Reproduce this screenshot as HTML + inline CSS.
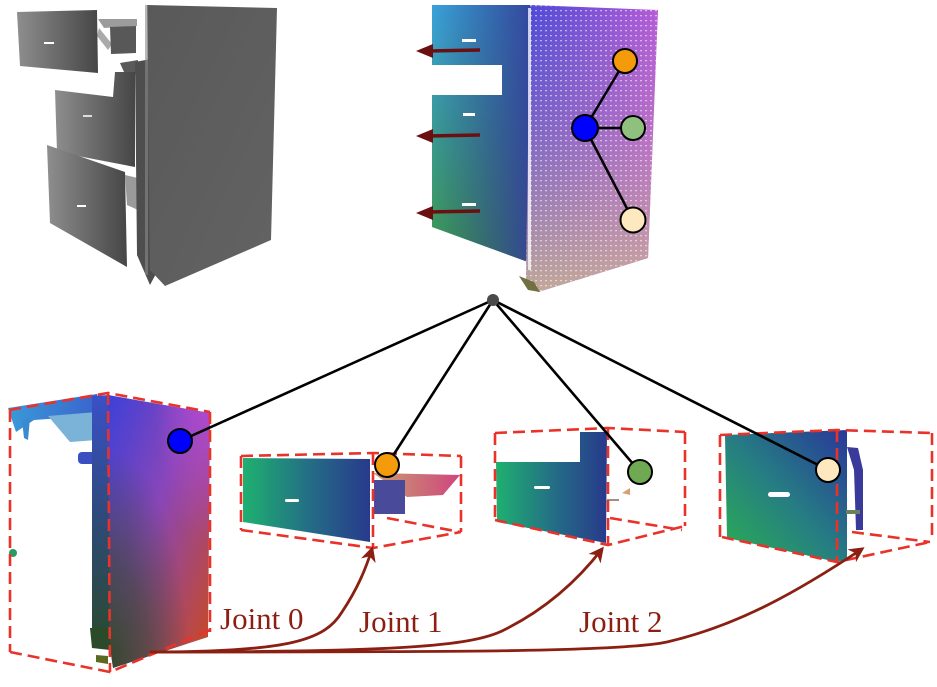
<!DOCTYPE html>
<html><head><meta charset="utf-8">
<style>
html,body{margin:0;padding:0;background:#fff;}
svg{display:block;}
</style></head><body>
<svg width="937" height="687" viewBox="0 0 937 687" xmlns="http://www.w3.org/2000/svg">
<defs>
  <linearGradient id="gDrawer" x1="0" y1="0" x2="1" y2="0">
    <stop offset="0" stop-color="#8e8e8e"/><stop offset="1" stop-color="#464646"/>
  </linearGradient>
  <linearGradient id="gPanel" x1="0" y1="0" x2="1" y2="1">
    <stop offset="0" stop-color="#595959"/><stop offset="1" stop-color="#636363"/>
  </linearGradient>
  <pattern id="dots" width="5" height="5" patternUnits="userSpaceOnUse">
    <rect x="0" y="0" width="2" height="1.3" fill="#fff" opacity="0.55"/>
  </pattern>
  <linearGradient id="gTL" x1="0" y1="0" x2="0" y2="1">
    <stop offset="0" stop-color="#3aa2dc"/><stop offset="0.5" stop-color="#3a9a92"/><stop offset="1" stop-color="#3c9a48"/>
  </linearGradient>
  <linearGradient id="gTLo" x1="0" y1="0" x2="1" y2="0">
    <stop offset="0" stop-color="#2a3a80" stop-opacity="0"/><stop offset="1" stop-color="#34409a" stop-opacity="0.92"/>
  </linearGradient>
  <linearGradient id="gTR" x1="0" y1="0" x2="1" y2="0">
    <stop offset="0" stop-color="#4a48d8"/><stop offset="1" stop-color="#b45ad8"/>
  </linearGradient>
  <linearGradient id="gTRo" x1="0" y1="0" x2="0" y2="1">
    <stop offset="0" stop-color="#c8a898" stop-opacity="0"/><stop offset="0.35" stop-color="#c893a8" stop-opacity="0.3"/><stop offset="1" stop-color="#c8ae96" stop-opacity="0.95"/>
  </linearGradient>
  <linearGradient id="gB1" x1="0" y1="0" x2="1" y2="1">
    <stop offset="0" stop-color="#3c40d8"/><stop offset="0.45" stop-color="#8a46b8"/><stop offset="1" stop-color="#cc4a18"/>
  </linearGradient>
  <radialGradient id="gB1g" cx="0" cy="1" r="0.8">
    <stop offset="0" stop-color="#34482a" stop-opacity="1"/><stop offset="0.5" stop-color="#34482a" stop-opacity="0.6"/><stop offset="1" stop-color="#34482a" stop-opacity="0"/>
  </radialGradient>
  <radialGradient id="gB1p" cx="1" cy="0" r="0.55">
    <stop offset="0" stop-color="#b44ad8" stop-opacity="0.9"/><stop offset="1" stop-color="#b44ad8" stop-opacity="0"/>
  </radialGradient>
  <linearGradient id="gCol" x1="0" y1="0" x2="0" y2="1">
    <stop offset="0" stop-color="#3a50c8"/><stop offset="0.5" stop-color="#2e4a7a"/><stop offset="1" stop-color="#2a4a30"/>
  </linearGradient>
  <linearGradient id="gBar" x1="0" y1="0" x2="1" y2="0">
    <stop offset="0" stop-color="#3a9ad8"/><stop offset="1" stop-color="#3a62cc"/>
  </linearGradient>
  <linearGradient id="gGB" x1="0" y1="0" x2="1" y2="0">
    <stop offset="0" stop-color="#1eb070"/><stop offset="0.55" stop-color="#246a86"/><stop offset="1" stop-color="#283a8c"/>
  </linearGradient>
  <linearGradient id="gGB4" x1="0" y1="1" x2="1" y2="0">
    <stop offset="0" stop-color="#2ab050"/><stop offset="0.5" stop-color="#267c84"/><stop offset="1" stop-color="#28389a"/>
  </linearGradient>
  <linearGradient id="gPink" x1="0" y1="0" x2="1" y2="0">
    <stop offset="0" stop-color="#c8a070"/><stop offset="1" stop-color="#d0447e"/>
  </linearGradient>
  <marker id="ah" viewBox="0 0 10 10" refX="8" refY="5" markerWidth="5.5" markerHeight="5.5" orient="auto" markerUnits="strokeWidth">
    <path d="M0,0 L10,5 L0,10 L3,5 z" fill="#8a1f12"/>
  </marker>
</defs>

<!-- ============ TOP LEFT gray cabinet ============ -->
<g>
  <polygon points="98,19 137,19 137,26 104,28" fill="#9c9c9c"/>
  <polygon points="99,28 112,44 108,50 97,36" fill="#aaaaaa"/>
  <polygon points="110,27 136,26 136,53 111,54" fill="#585858"/>
  <polygon points="120,63 138,60 138,75 124,72" fill="#5a5a5a"/>
  <polygon points="17,12 97,10 98,73 20,66" fill="url(#gDrawer)"/>
  <polygon points="55,90 113,97 115,72 135,72 135,167 57,152" fill="url(#gDrawer)"/>
  <polygon points="125,175 138,178 138,210 127,205" fill="#9a9a9a"/>
  <polygon points="47,145 125,172 127,267 50,223" fill="url(#gDrawer)"/>
  <polygon points="135,62 156,58 158,270 150,285 137,255" fill="#4e4e4e"/>
  <polygon points="147,5 277,8 271,240 165,286 150,270" fill="url(#gPanel)"/>
  <rect x="145" y="5" width="3" height="270" fill="#8a8a8a" opacity="0.6"/>
  <rect x="44" y="42" width="10" height="2" fill="#fff"/>
  <rect x="83" y="115" width="9" height="2" fill="#ddd"/>
  <rect x="77" y="205" width="9" height="2" fill="#fff"/>
</g>

<!-- ============ TOP RIGHT colored cloud ============ -->
<g>
  <polygon points="432,5 530,5 528,262 432,227" fill="url(#gTL)"/>
  <polygon points="432,5 530,5 528,262 432,227" fill="url(#gTLo)"/>
  <rect x="430" y="65" width="72" height="30" fill="#fff"/>
  <polygon points="530,5 658,10 648,258 538,292 526,282" fill="url(#gTR)"/>
  <polygon points="530,5 658,10 648,258 538,292 526,282" fill="url(#gTRo)"/>
  <polygon points="530,5 658,10 648,258 538,292 526,282" fill="url(#dots)"/>
  <polygon points="519,276 534,282 540,292 528,290" fill="#707040"/>
  <rect x="528" y="8" width="3" height="262" fill="#fff" opacity="0.75"/>
  <rect x="462" y="39" width="14" height="3" fill="#fff"/>
  <rect x="463" y="113" width="12" height="3" fill="#fff"/>
  <rect x="462" y="203" width="14" height="3" fill="#fff"/>
  <g fill="#6a1010" stroke="#6a1010">
    <line x1="480" y1="50" x2="428" y2="51" stroke-width="3.5"/>
    <polygon points="416,51 433,44 433,58" stroke="none"/>
    <line x1="480" y1="135" x2="428" y2="136" stroke-width="3.5"/>
    <polygon points="416,136 433,129 433,143" stroke="none"/>
    <line x1="480" y1="211" x2="428" y2="212" stroke-width="3.5"/>
    <polygon points="416,213 433,206 433,220" stroke="none"/>
  </g>
  <g stroke="#000" stroke-width="2.5">
    <line x1="585" y1="128" x2="625" y2="61"/>
    <line x1="585" y1="128" x2="633" y2="128"/>
    <line x1="585" y1="128" x2="633" y2="220"/>
  </g>
  <circle cx="625" cy="61" r="12" fill="#f49b0c" stroke="#000" stroke-width="2"/>
  <circle cx="633" cy="128" r="12" fill="#8fc07e" stroke="#000" stroke-width="2"/>
  <circle cx="633" cy="220" r="12.5" fill="#fde8c0" stroke="#000" stroke-width="2"/>
  <circle cx="585" cy="128" r="13" fill="#0000ff" stroke="#000" stroke-width="2"/>
</g>

<!-- ============ BOTTOM LEFT big cloud ============ -->
<g>
  <polygon points="8,408 97,394 100,418 62,418 34,420 16,432" fill="url(#gBar)"/>
  <polygon points="48,416 97,412 97,440 70,442" fill="#7ab2d8"/>
  <polygon points="22,420 30,418 28,440 24,438" fill="#3a8ad0"/>
  <rect x="78" y="452" width="20" height="12" rx="4" fill="#3a50c0"/>
  <circle cx="13" cy="553" r="4" fill="#2a9a60"/>
  <polygon points="92,396 110,395 112,640 92,640" fill="url(#gCol)"/>
  <polygon points="90,628 110,628 110,650 92,648" fill="#2a4a2a"/>
  <polygon points="96,655 108,656 108,664 96,662" fill="#5a6a20"/>
  <polygon points="108,395 210,413 208,637 113,668 110,647" fill="url(#gB1)"/>
  <polygon points="108,395 210,413 208,637 113,668 110,647" fill="url(#gB1p)"/>
  <polygon points="108,395 210,413 208,637 113,668 110,647" fill="url(#gB1g)"/>
</g>

<!-- ============ BOX 2 cloud ============ -->
<g>
  <polygon points="373,473 460,475 443,495 407,497" fill="url(#gPink)"/>
  <rect x="374" y="480" width="31" height="34" fill="#4a4a9a"/>
  <polygon points="243,458 370,459 370,542 243,522" fill="url(#gGB)"/>
  <rect x="285" y="499" width="14" height="3" rx="1.5" fill="#fff"/>
</g>

<!-- ============ BOX 3 cloud ============ -->
<g>
  <polygon points="580,432 607,432 606,543 497,522 496,462 580,462" fill="url(#gGB)"/>
  <rect x="534" y="486" width="16" height="3" rx="1.5" fill="#fff"/>
  <rect x="607" y="499" width="12" height="2" fill="#a09080"/>
  <polygon points="622,493 630,488 630,495" fill="#d8a070"/>
</g>

<!-- ============ BOX 4 cloud ============ -->
<g>
  <polygon points="725,435 847,430 847,560 837,562 727,538" fill="url(#gGB4)"/>
  <polygon points="847,447 858,448 863,470 863,530 856,530 854,470" fill="#3a3a9a"/>
  <rect x="846" y="510" width="14" height="4" fill="#6a8060"/>
  <rect x="768" y="492" width="22" height="5" rx="2.5" fill="#fff"/>
</g>

<!-- ============ dashed boxes ============ -->
<g fill="none" stroke="#e8322a" stroke-width="2.6" stroke-dasharray="12 6">
  <path d="M9,410 L108,393 L210,412"/>
  <path d="M10,410 L10,652"/>
  <path d="M108,393 L110,672"/>
  <path d="M210,412 L210,632"/>
  <path d="M10,652 L110,672 L210,630"/>
  <path d="M241,456 L373,453 L461,456"/>
  <path d="M241,456 L241,530"/>
  <path d="M373,453 L373,548"/>
  <path d="M461,456 L461,532"/>
  <path d="M241,530 L373,548 L461,532"/>
  <path d="M387,518 L460,532"/>
  <path d="M495,433 L608,428 L685,432"/>
  <path d="M495,433 L495,520"/>
  <path d="M608,428 L608,545"/>
  <path d="M685,432 L685,526"/>
  <path d="M495,520 L608,545 L685,526"/>
  <path d="M610,518 L682,530"/>
  <path d="M720,435 L837,430 L932,433"/>
  <path d="M720,435 L720,540"/>
  <path d="M837,430 L837,562"/>
  <path d="M932,433 L932,540"/>
  <path d="M722,537 L837,562 L930,542"/>
  <path d="M852,532 L930,542"/>
</g>

<!-- ============ connector lines from hub ============ -->
<g stroke="#000" stroke-width="2.6">
  <line x1="493" y1="300" x2="180" y2="441"/>
  <line x1="493" y1="300" x2="387" y2="465"/>
  <line x1="493" y1="300" x2="640" y2="472"/>
  <line x1="493" y1="300" x2="828" y2="470"/>
</g>
<circle cx="493" cy="300" r="6" fill="#4a4a4a"/>
<circle cx="180" cy="441" r="12" fill="#0000ff" stroke="#000" stroke-width="2"/>
<circle cx="387" cy="465" r="12" fill="#f49b0c" stroke="#000" stroke-width="2"/>
<circle cx="640" cy="472" r="12" fill="#6faa52" stroke="#000" stroke-width="2"/>
<circle cx="828" cy="470" r="12" fill="#fde8c0" stroke="#000" stroke-width="2"/>

<!-- ============ joint arrows ============ -->
<g fill="none" stroke="#8a1f12" stroke-width="2.8" marker-end="url(#ah)">
  <path d="M150,652 C290,652 325,640 342,612 C358,588 366,568 372,549"/>
  <path d="M150,652 C400,652 470,646 502,631 C545,610 578,580 602,549"/>
  <path d="M150,652 C450,652 620,652 667,642 C740,625 800,590 862,549"/>
</g>

<g font-family="'Liberation Serif', serif" font-size="31" fill="#8a1f12">
  <text x="220" y="629">Joint 0</text>
  <text x="359" y="632">Joint 1</text>
  <text x="579" y="632">Joint 2</text>
</g>
</svg>
</body></html>
